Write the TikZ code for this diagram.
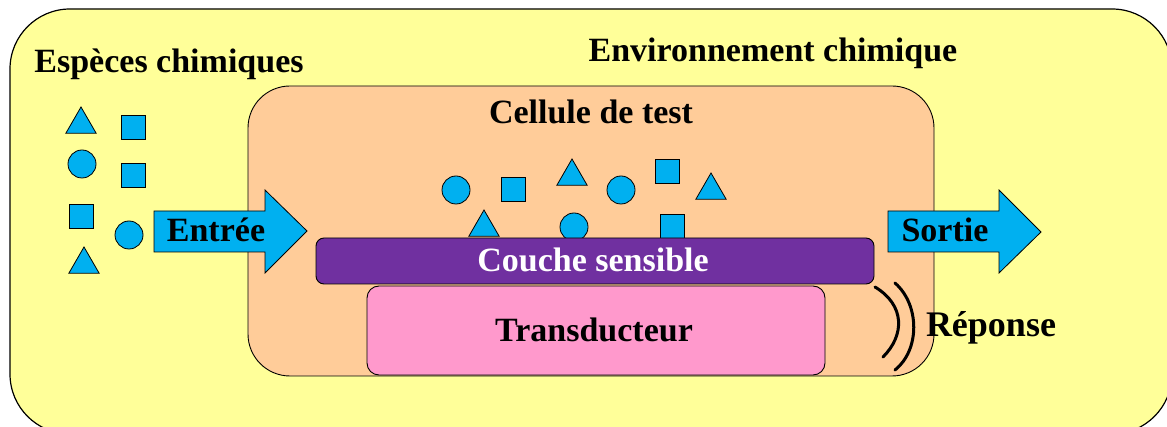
\documentclass[tikz,border=0pt]{standalone}
\usepackage{fontspec}
\setmainfont{Liberation Serif}
\usetikzlibrary{shapes.geometric}

\definecolor{envyellow}{HTML}{FFFF99}
\definecolor{cellorange}{HTML}{FFCC99}
\definecolor{layerpurple}{HTML}{7030A0}
\definecolor{transpink}{HTML}{FF99CC}
\definecolor{speciesblue}{HTML}{00B0F0}

\tikzset{
  label/.style={anchor=base, inner sep=0pt, font=\fontsize{34}{37}\selectfont\bfseries},
  species/.style={draw=black, fill=speciesblue, line width=0.8pt, inner sep=0pt},
  circ/.style={species, circle, minimum size=28},
  sqr/.style={species, rectangle, minimum size=24},
  tri/.style={species, regular polygon, regular polygon sides=3, minimum size=35},
  flow/.style={draw=black, fill=speciesblue, line width=0.8pt},
  wave/.style={line width=3pt, line cap=round}
}

\begin{document}
\begin{tikzpicture}[x=1pt, y=-1pt]
  \clip (0,0) rectangle (1167,427);

  % environment and test cell
  \draw[fill=envyellow, line width=1.2pt, rounded corners=60] (10,9) rectangle (1172,434);
  \draw[fill=cellorange, line width=0.9pt, rounded corners=42] (248,86) rectangle (934,376);

  \node[label] (especes) at (169,73) {Espèces chimiques};
  \node[label] (environnement) at (773,62) {Environnement chimique};
  \node[label] (cellule) at (591,124) {Cellule de test};

  % species outside the cell
  \node[tri]  (out1) at (81,124.5) {};
  \node[sqr]  (out2) at (133,127) {};
  \node[circ] (out3) at (82,164) {};
  \node[sqr]  (out4) at (133,175) {};
  \node[sqr]  (out5) at (81,216) {};
  \node[circ] (out6) at (129,235) {};
  \node[tri]  (out7) at (84,264.5) {};

  % species inside the cell
  \node[circ] (in1) at (456,190) {};
  \node[sqr]  (in2) at (513,189) {};
  \node[tri]  (in3) at (572,176.5) {};
  \node[circ] (in4) at (621,190) {};
  \node[sqr]  (in5) at (667,171) {};
  \node[tri]  (in6) at (711,190.5) {};
  \node[tri]  (in7) at (484,227.5) {};
  \node[circ] (in8) at (574,227) {};
  \node[sqr]  (in9) at (672,226) {};

  % sensor layers
  \draw[fill=layerpurple, line width=0.9pt, rounded corners=8] (316,238) rectangle (874,284);
  \node[label, text=white] (couche) at (593,272) {Couche sensible};
  \draw[fill=transpink, line width=0.9pt, rounded corners=12] (367,286) rectangle (825,375);
  \node[label] (transducteur) at (594,342) {Transducteur};

  % input and output
  \draw[flow] (154,211) -- (265,211) -- (265,190) -- (307,231) -- (265,273) -- (265,252) -- (154,252) -- cycle;
  \node[label] (entree) at (216,242) {Entrée};
  \draw[flow] (888,211) -- (999,211) -- (999,190) -- (1041,232) -- (999,273) -- (999,252) -- (888,252) -- cycle;
  \node[label] (sortie) at (945,242) {Sortie};

  % response
  \draw[wave] (875,287) .. controls (905,305) and (905,335) .. (883,357);
  \draw[wave] (895,283) .. controls (920,305) and (920,350) .. (895,370);
  \node[label, font=\fontsize{36}{39}\selectfont\bfseries] (reponse) at (991,337) {Réponse};
\end{tikzpicture}
\end{document}
